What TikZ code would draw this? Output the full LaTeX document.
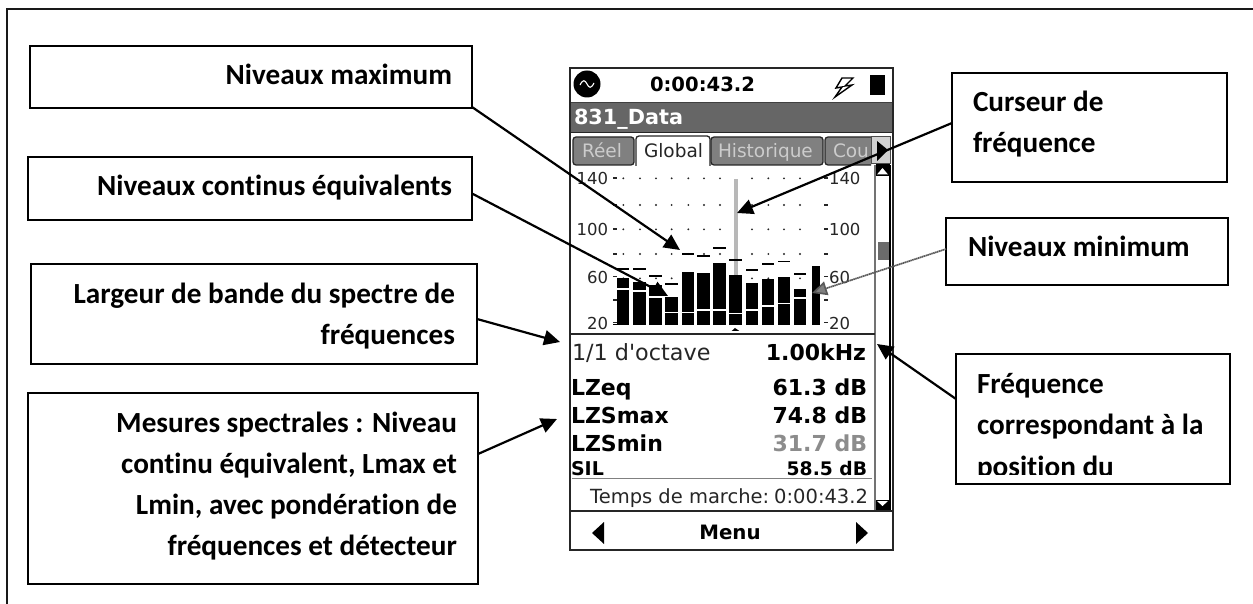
\documentclass[tikz,border=0pt]{standalone}
\usepackage{fontspec}
\setmainfont{Carlito}[Ligatures=NoCommon]
\newfontfamily\dv{DejaVu Sans}
\usetikzlibrary{arrows.meta}
\tikzset{
  box/.style={draw=black,line width=2pt,fill=white,inner sep=0pt,outer sep=0pt,anchor=north west},
  lab/.style={inner sep=0pt,outer sep=0pt,font=\fontsize{29.2}{34}\selectfont\bfseries,text=black},
  conn/.style={draw=black,line width=2.2pt,-{Triangle[length=16pt,width=15pt]}},
  connmin/.style={draw=black!65,line width=1.7pt,dash pattern=on 1.5pt off 0.5pt,-{Triangle[length=15pt,width=14pt,fill=black!50]}},
  scr/.style={inner sep=0pt,outer sep=0pt,font=\dv\fontsize{18.5}{22}\selectfont,text=black!85},
  scrb/.style={inner sep=0pt,outer sep=0pt,font=\dv\fontsize{22}{26}\selectfont\bfseries,text=black},
  tab/.style={draw=black!85,line width=1.3pt,rounded corners=3pt,fill=#1},
  axl/.style={inner sep=0pt,outer sep=0pt,font=\dv\fontsize{16.5}{19}\selectfont,text=black!85},
}
\begin{document}
\begin{tikzpicture}[x=1pt,y=-1pt]
\useasboundingbox (0,0) rectangle (1253,604);
\fill[white] (0,0) rectangle (1253,604);
% outer frame (runs off the right and bottom of the page)
\draw[black!90,line width=2pt] (6.5,604) -- (6.5,9.5) -- (1253,9.5);

% ---------- device screen ----------
\fill[white] (570,68) rectangle (893,550);
% status bar
\fill[black] (587,84) circle (13.5);
\draw[white,line width=1.1pt] (580,85) .. controls (583,79) and (585,80) .. (587,84) .. controls (589,88) and (591,89) .. (594,83);
\node[scrb,anchor=base west,font=\dv\fontsize{19.6}{22}\selectfont\bfseries] (time) at (650,92) {0:00:43.2};
\draw[black,line width=1.4pt,fill=white] (853,78) -- (842,78) -- (836,88) -- (842,87) -- (835,97) -- (852,85) -- (845,86) -- cycle;
\fill[black] (870,75) rectangle (885,95);
% title band
\fill[black!60] (571,102) rectangle (892,132);
\draw[black!75,line width=1.2pt] (571,102.5) -- (892,102.5);
\draw[black!85,line width=1.2pt] (571,132.5) -- (892,132.5);
\node[scrb,anchor=base west,text=white,font=\dv\fontsize{20.8}{24}\selectfont\bfseries] (title) at (574,125) {831\_Data};
% tabs
\begin{scope}
\clip (571,133) rectangle (871,166);
\path[tab=black!50] (573,137) rectangle (634,165);
\path[tab=black!50] (711,137) rectangle (823,165);
\path[tab=black!50] (825,137) rectangle (900,165);
\path[tab=white] (636,136) rectangle (710,172);
\end{scope}
\node[scr,anchor=base west,text=black!20] (t1) at (582,158) {Réel};
\node[scr,anchor=base west] (t2) at (644,158) {Global};
\node[scr,anchor=base west,text=black!20] (t3) at (718,158) {Historique};
\begin{scope}
\clip (826,140) rectangle (871,164);
\node[scr,anchor=base west,text=black!20] (t4) at (833,158) {Cou};
\end{scope}
\fill[black!18] (871,137) rectangle (890,164);
\draw[black!70,line width=1pt] (871,137) rectangle (890,164);
\fill[black] (877,141) -- (888,150) -- (877,161) -- cycle;
% scrollbar
\draw[black!55,line width=1.4pt] (875,165) -- (875,511);
\fill[black] (875.5,164.5) rectangle (890,176);
\fill[white] (877,176) rectangle (889,501);
\fill[white] (882.5,168) -- (877,174.5) -- (888,174.5) -- cycle;
\fill[black!58] (878,242) rectangle (889,260);
\fill[black] (875.5,500) rectangle (890,511);
\fill[white] (877,501) -- (888,501) -- (882.5,506) -- cycle;
\draw[black,line width=2.4pt] (890,165) -- (890,511);

% chart, in units of thirds of a pixel
\begin{scope}[x=0.33333pt,y=-0.33333pt,shift={(560pt,-170pt)}]
  \foreach \r in {25,105,178,252,325,390,458}
    \foreach \d in {190,240,288,335,385,432,480,576,625,672,720}
      \fill[black!85] (\d,\r) circle (3.2);
  \foreach \r in {25,105,178,252,320,390,458} {
    \fill[black!85] (160,\r-2.5) rectangle (172,\r+2.5);
    \fill[black!85] (792,\r-2.5) rectangle (804,\r+2.5);
  }
  \fill[black!28] (521,28) rectangle (533,320);
  \foreach \x/\t/\g/\m in {170/325/355/298, 220/335/360/298, 268/345/378/318, 316/382/425/342, 365/305/425/253, 412/310/418/258, 460/280/418/234, 508/316/428/270, 557/340/418/300, 605/328/405/282, 653/322/398/275, 701/358/382/312} {
    \fill[black] (\x,\t) rectangle ({\x+37},465);
    \fill[white] (\x,\g) rectangle ({\x+37},{\g+5});
    \fill[black] (\x,\m-2.5) rectangle ({\x+37},\m+2.5);
  }
  \fill[black] (755,287) rectangle (780,465);
  \fill[black] (160,463) rectangle (172,466);
  \fill[black] (525,474) -- (515,483) -- (538,483) -- cycle;
\end{scope}
\node[axl,anchor=east] (a1) at (608,178) {140};
\node[axl,anchor=east] (a2) at (608,229) {100};
\node[axl,anchor=east] (a3) at (608,277) {60};
\node[axl,anchor=east] (a4) at (608,323) {20};
\node[axl,anchor=west] (a5) at (829,178) {140};
\node[axl,anchor=west] (a6) at (829,229) {100};
\node[axl,anchor=west] (a7) at (829,277) {60};
\node[axl,anchor=west] (a8) at (829,323) {20};
\draw[black!85,line width=1.4pt] (570,334) -- (875,334);

% readings
\node[scr,anchor=base west,font=\dv\fontsize{22.3}{26}\selectfont] (oct) at (572,360) {1/1 d'octave};
\node[scrb,anchor=base east] (khz) at (866,360) {1.00kHz};
\node[scrb,anchor=base west] (l1) at (571,395) {LZeq};
\node[scrb,anchor=base west] (l2) at (571,423) {LZSmax};
\node[scrb,anchor=base west] (l3) at (571,451) {LZSmin};
\node[scrb,anchor=base west,font=\dv\fontsize{19}{22}\selectfont\bfseries] (l4) at (571,475) {SIL};
\node[scrb,anchor=base east] (v1) at (867,395) {61.3 dB};
\node[scrb,anchor=base east] (v2) at (867,423) {74.8 dB};
\node[scrb,anchor=base east,text=black!45] (v3) at (867,451) {31.7 dB};
\node[scrb,anchor=base east,font=\dv\fontsize{18.7}{22}\selectfont\bfseries] (v4) at (867,475) {58.5 dB};
\draw[black!50,line width=1.2pt] (572,478.5) -- (872,478.5);
\node[scr,anchor=base east,font=\dv\fontsize{19.5}{22}\selectfont] (run) at (868,503) {Temps de marche:\hspace{5pt}0:00:43.2};
\draw[black!85,line width=1.8pt] (570,511) -- (892,511);
\node[scrb,anchor=base,font=\dv\fontsize{19.8}{24}\selectfont\bfseries] (menu) at (730,539) {Menu};
\fill[black] (604,522) -- (592,533) -- (604,544) -- cycle;
\fill[black] (856,522) -- (868,533) -- (856,544) -- cycle;
\draw[black!85,line width=1.6pt] (570,68) rectangle (893,550);

% ---------- callout boxes ----------
\node[box,minimum width=442pt,minimum height=62pt] (bmax) at (30,46) {};
\node[box,minimum width=444pt,minimum height=63pt] (bcont) at (28,157) {};
\node[box,minimum width=446pt,minimum height=100pt] (blarg) at (31,264) {};
\node[box,minimum width=450pt,minimum height=191pt] (bmes) at (28,393) {};
\node[box,minimum width=275pt,minimum height=109pt] (bcur) at (952,73) {};
\node[box,minimum width=282pt,minimum height=67pt] (bmin) at (946,218) {};
\node[box,minimum width=274pt,minimum height=130pt] (bfre) at (956,354) {};

\node[lab,anchor=base east] (x1) at (452,85) {Niveaux maximum};
\node[lab,anchor=base east] (x2) at (452,196) {Niveaux continus équivalents};
\node[lab,anchor=base east] (x3) at (455,303) {Largeur de bande du spectre de};
\node[lab,anchor=base east] (x4) at (455,344) {fréquences};
\node[lab,anchor=base east] (x5) at (457,432) {Mesures spectrales : Niveau};
\node[lab,anchor=base east] (x6) at (457,473) {continu équivalent, Lmax et};
\node[lab,anchor=base east] (x7) at (457,514) {Lmin, avec pondération de};
\node[lab,anchor=base east] (x8) at (457,555) {fréquences et détecteur};
\node[lab,anchor=base west] (x9) at (973,112) {Curseur de};
\node[lab,anchor=base west] (x10) at (973,153) {fréquence};
\node[lab,anchor=base west] (x11) at (968,257) {Niveaux minimum};
\node[lab,anchor=base west] (x12) at (977,393) {Fréquence};
\node[lab,anchor=base west] (x13) at (977,434) {correspondant à la};
\begin{scope}
\clip (958,440) rectangle (1228,474.5);
\node[lab,anchor=base west] (x14) at (977,476) {position du};
\end{scope}

% ---------- connectors ----------
\coordinate (tmax) at (680,250);
\coordinate (tcont) at (668,296);
\coordinate (tlarg) at (560,342);
\coordinate (tmes) at (557,419);
\coordinate (tcur) at (737,213);
\coordinate (tmin) at (812,293);
\coordinate (tfre) at (877,344);
\draw[conn] ([yshift=1pt]bmax.south east) -- (tmax);
\draw[conn] ([yshift=-5pt]bcont.east) -- (tcont);
\draw[conn] ([yshift=-5pt]blarg.east) -- (tlarg);
\draw[conn] ([yshift=34.5pt]bmes.east) -- (tmes);
\draw[conn] ([yshift=4.5pt]bcur.west) -- (tcur);
\draw[connmin] ([yshift=2.5pt]bmin.west) -- (tmin);
\draw[conn] ([yshift=20pt]bfre.west) -- (tfre);
\end{tikzpicture}
\end{document}
